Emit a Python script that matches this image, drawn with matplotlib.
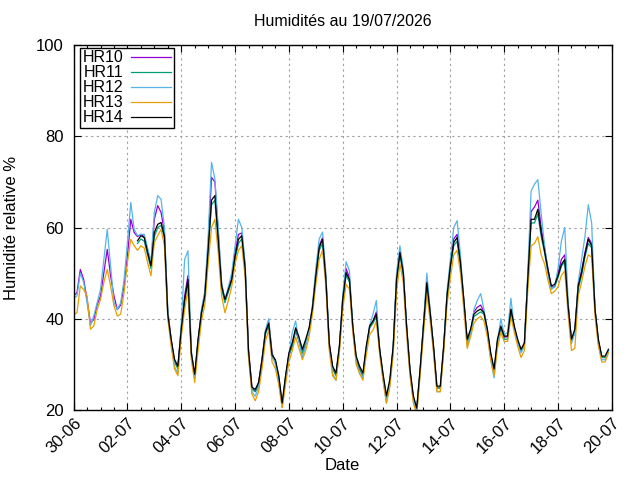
"""Humidités relatives HR10..HR14, du 30/06 au 19/07/2026 (style gnuplot)."""

import matplotlib

matplotlib.use("Agg")
import matplotlib.pyplot as plt
import matplotlib.dates as mdates
import pandas as pd

plt.rcParams["font.family"] = ["Liberation Sans", "DejaVu Sans"]

# ------------------------------------------------------------------ #
# Data: one reading every 3 h from 30-06 00:00 (8 values per day row)
# HR11 and HR14 only start on 02-07 at 09:00.
# ------------------------------------------------------------------ #
start = "2026-06-30 00:00"
step = "3h"
late_start = 19  # index of the first HR11 / HR14 reading

hr10 = [
    45.0, 45.7, 50.8, 48.6, 44.2, 39.1, 39.8, 43.1,
    45.0, 50.1, 55.2, 49.4, 45.0, 42.0, 43.0, 47.2,
    53.8, 61.8, 58.9, 58.0, 58.5, 58.0, 55.0, 52.0,
    61.8, 64.8, 63.3, 59.0, 41.5, 35.5, 30.5, 29.5,
    38.0, 45.0, 49.5, 32.5, 27.5, 35.0, 41.5, 45.5,
    56.5, 71.0, 70.0, 59.0, 47.5, 44.0, 46.0, 49.0,
    54.5, 58.5, 58.8, 51.5, 33.0, 25.0, 24.0, 26.0,
    31.0, 37.0, 39.5, 32.5, 30.5, 27.0, 21.0, 27.0,
    32.0, 34.0, 37.5, 35.0, 32.5, 34.5, 37.5, 42.5,
    50.0, 56.0, 57.8, 49.0, 34.5, 29.0, 27.8, 33.5,
    44.5, 51.0, 49.0, 38.0, 31.0, 29.0, 27.5, 33.5,
    38.0, 39.5, 41.5, 33.0, 27.0, 22.5, 26.0, 33.5,
    49.0, 55.0, 50.5, 38.0, 28.5, 22.5, 20.0, 28.5,
    38.5, 48.5, 41.5, 33.5, 24.8, 24.8, 33.5, 45.0,
    52.0, 57.5, 58.5, 52.5, 44.0, 35.0, 37.0, 41.5,
    42.5, 43.0, 41.5, 37.5, 32.0, 28.5, 35.0, 38.0,
    36.0, 36.0, 42.0, 38.0, 35.0, 33.0, 34.5, 49.0,
    63.5, 64.5, 66.0, 60.0, 55.5, 51.0, 47.0, 47.0,
    50.0, 53.0, 54.0, 43.0, 35.0, 37.5, 47.5, 50.5,
    54.5, 57.8, 56.5, 42.0, 35.0, 31.5, 31.5, 33.0,
]

hr11 = [
    56.5, 57.5, 57.0, 54.0, 51.0,
    58.0, 60.0, 60.5, 57.5, 40.5, 35.0, 30.5, 29.0,
    37.0, 43.5, 48.0, 32.0, 27.5, 35.0, 41.0, 44.5,
    54.5, 65.0, 66.0, 56.5, 46.5, 43.5, 46.0, 48.0,
    53.0, 56.5, 57.5, 50.5, 32.5, 24.5, 24.0, 25.5,
    30.5, 36.5, 38.5, 31.5, 30.5, 27.0, 21.0, 27.0,
    32.0, 34.0, 37.5, 35.5, 32.5, 35.0, 37.5, 42.0,
    49.0, 55.0, 56.5, 48.0, 34.0, 29.0, 27.5, 33.5,
    43.5, 49.5, 48.0, 38.0, 31.5, 29.0, 27.5, 33.5,
    38.0, 39.0, 40.5, 33.0, 27.5, 22.5, 26.0, 33.5,
    48.0, 54.0, 49.5, 38.0, 28.5, 22.5, 20.0, 28.5,
    38.0, 47.5, 41.0, 33.5, 24.8, 24.8, 33.5, 44.5,
    51.0, 56.0, 57.0, 51.5, 43.5, 35.0, 37.0, 40.5,
    41.0, 41.5, 41.0, 37.0, 32.0, 28.5, 35.0, 38.0,
    35.5, 35.5, 41.5, 38.0, 35.0, 33.0, 34.0, 48.0,
    61.0, 61.0, 63.0, 58.0, 54.5, 50.0, 46.5, 47.0,
    49.0, 51.5, 52.5, 42.5, 35.0, 37.0, 46.5, 49.5,
    53.5, 56.5, 55.5, 41.5, 35.0, 31.5, 31.5, 33.0,
]

hr12 = [
    44.5, 45.0, 50.0, 48.0, 43.5, 38.5, 40.6, 43.5,
    46.4, 53.0, 59.6, 51.6, 43.5, 42.0, 43.5, 48.6,
    56.7, 65.5, 59.6, 58.2, 58.5, 58.5, 55.5, 52.5,
    63.3, 67.0, 66.2, 60.0, 42.0, 35.0, 29.5, 28.0,
    39.0, 53.0, 54.9, 33.0, 27.0, 35.0, 42.0, 46.0,
    58.0, 74.3, 70.6, 60.0, 48.0, 44.0, 47.0, 50.0,
    56.0, 61.8, 60.0, 52.0, 32.0, 24.0, 23.0, 25.0,
    30.5, 37.5, 40.0, 32.0, 30.0, 26.0, 20.5, 26.5,
    32.0, 37.0, 39.5, 35.0, 31.5, 34.0, 37.5, 43.0,
    51.0, 57.5, 59.0, 50.0, 34.0, 28.0, 26.5, 33.0,
    45.0, 52.5, 50.5, 38.0, 30.5, 28.0, 27.0, 33.0,
    38.5, 41.0, 44.0, 33.0, 26.5, 21.5, 25.5, 33.5,
    50.0, 56.0, 51.0, 38.0, 28.0, 22.0, 19.5, 28.0,
    39.0, 50.0, 42.0, 33.0, 24.0, 24.0, 33.0, 46.0,
    53.0, 60.0, 61.5, 54.0, 44.0, 34.0, 36.5, 42.0,
    44.0, 45.5, 42.0, 37.0, 31.0, 27.0, 35.0, 40.0,
    36.5, 37.0, 44.5, 38.0, 35.0, 32.5, 34.0, 50.0,
    68.0, 69.5, 70.5, 63.0, 56.0, 50.5, 46.5, 47.0,
    51.0, 57.0, 60.0, 44.0, 34.5, 37.0, 48.0, 53.0,
    58.0, 65.0, 61.0, 42.0, 34.5, 31.0, 31.0, 33.0,
]

hr13 = [
    41.0, 41.3, 47.2, 46.4, 45.0, 37.7, 38.4, 42.0,
    44.2, 48.0, 50.8, 47.2, 42.8, 40.6, 41.0, 45.7,
    52.3, 57.4, 56.0, 55.0, 56.0, 55.5, 52.3, 49.4,
    56.7, 58.2, 59.6, 56.0, 40.0, 34.0, 29.0, 27.5,
    36.0, 42.0, 46.5, 31.0, 26.0, 33.0, 39.5, 43.0,
    52.0, 60.0, 61.8, 54.5, 45.0, 41.3, 44.0, 47.0,
    52.0, 55.0, 56.0, 49.0, 31.5, 23.5, 22.0, 24.0,
    29.0, 35.0, 37.5, 30.5, 29.0, 25.5, 20.5, 25.5,
    30.5, 33.0, 36.0, 33.5, 31.0, 33.0, 36.0, 41.0,
    47.5, 53.0, 55.0, 47.0, 33.0, 27.5, 26.5, 32.5,
    42.0, 47.5, 46.5, 37.0, 30.0, 28.0, 26.5, 32.0,
    36.5, 37.5, 39.5, 32.0, 26.5, 21.5, 25.0, 32.0,
    46.0, 52.0, 48.0, 36.5, 27.5, 21.5, 19.0, 27.5,
    36.5, 45.5, 39.5, 32.5, 24.0, 24.0, 32.5, 43.0,
    49.0, 54.0, 55.0, 50.0, 42.0, 33.5, 36.0, 39.0,
    40.0, 40.5, 39.5, 36.0, 31.0, 27.5, 33.5, 37.0,
    35.0, 35.0, 40.5, 37.0, 34.0, 31.5, 33.0, 46.0,
    56.0, 56.5, 58.0, 54.0, 52.0, 48.5, 45.5, 46.0,
    47.0, 49.5, 50.5, 41.0, 33.0, 33.5, 45.0, 48.0,
    51.5, 54.0, 53.5, 40.5, 34.0, 30.5, 30.5, 32.5,
]

hr14 = [
    57.1, 58.2, 57.8, 54.5, 51.6,
    58.9, 60.7, 61.1, 58.2, 41.0, 35.5, 31.1, 29.6,
    37.7, 44.2, 48.6, 32.5, 27.8, 35.5, 41.3, 45.0,
    55.2, 66.0, 67.0, 57.4, 47.2, 44.2, 46.4, 48.6,
    53.8, 57.4, 58.2, 51.0, 33.0, 25.0, 24.5, 26.0,
    31.0, 37.0, 39.0, 32.0, 31.0, 27.5, 21.5, 27.5,
    32.5, 34.7, 38.0, 36.0, 33.3, 35.5, 38.0, 42.4,
    49.4, 55.6, 57.4, 48.6, 34.7, 29.6, 28.1, 34.0,
    44.2, 50.1, 48.6, 38.4, 31.8, 29.6, 28.1, 34.0,
    38.4, 39.5, 41.0, 33.3, 27.8, 23.1, 26.7, 34.0,
    48.6, 54.5, 50.1, 38.4, 28.9, 23.1, 20.4, 29.0,
    38.4, 47.9, 41.3, 34.0, 25.2, 25.2, 34.0, 45.0,
    51.6, 56.7, 57.8, 52.3, 44.2, 35.5, 37.7, 41.0,
    41.7, 42.1, 41.3, 37.7, 32.5, 29.0, 35.5, 38.4,
    36.2, 36.2, 42.1, 38.4, 35.5, 33.3, 34.7, 48.6,
    61.8, 61.8, 64.0, 58.9, 54.9, 50.8, 47.2, 47.5,
    49.4, 51.9, 53.0, 42.8, 35.5, 37.7, 47.2, 50.1,
    54.1, 57.4, 56.0, 42.1, 35.5, 31.8, 31.8, 33.3,
]

series_names = ["HR10", "HR11", "HR12", "HR13", "HR14"]
series_values = [hr10, hr11, hr12, hr13, hr14]
series_colors = ["#9400d3", "#009e73", "#56b4e9", "#e69f00", "#000000"]

title = "Humidités au 19/07/2026"
x_label = "Date"
y_label = "Humidité relative %"
y_ticks = [20, 40, 60, 80, 100]


def main() -> None:
    times = pd.date_range(start, periods=len(hr10), freq=step)

    fig = plt.figure(figsize=(6.4, 4.8), dpi=100)
    ax = fig.add_axes([0.115, 0.146, 0.841, 0.760])

    for name, values, color in zip(series_names, series_values, series_colors):
        x = times if len(values) == len(times) else times[late_start:]
        ax.plot(x, values, color=color, linewidth=0.9, label=name)

    # axes, ticks, grid (gnuplot look)
    ax.set_xlim(pd.Timestamp("2026-06-30"), pd.Timestamp("2026-07-20"))
    ax.set_ylim(20, 100)
    ax.set_yticks(y_ticks)
    ax.set_xticks(pd.date_range("2026-06-30", "2026-07-20", freq="2D"))
    ax.set_xticks(pd.date_range("2026-06-30", "2026-07-20", freq="12h"), minor=True)
    ax.xaxis.set_major_formatter(mdates.DateFormatter("%d-%m"))
    ax.tick_params(which="both", direction="in", top=True, right=True,
                   labelsize=12, color="black")
    ax.tick_params(which="major", length=5, width=0.8)
    ax.tick_params(which="minor", length=2.5, width=0.8)
    ax.tick_params(axis="y", pad=7)
    ax.tick_params(axis="x", pad=4)
    for label in ax.get_xticklabels():
        label.set_rotation(45)
        label.set_ha("right")
        label.set_va("top")
        label.set_rotation_mode("anchor")
    ax.grid(True, which="major", color="#a0a0a0", linestyle=(0, (2, 3)), linewidth=0.8)
    for spine in ax.spines.values():
        spine.set_linewidth(1.0)

    ax.set_title(title, fontsize=11.5, pad=14)
    ax.set_xlabel(x_label, fontsize=12, labelpad=1)
    ax.set_ylabel(y_label, fontsize=12, labelpad=12)

    legend = ax.legend(loc="upper left", bbox_to_anchor=(0.012, 0.992),
                       markerfirst=False, fontsize=11.5,
                       handlelength=2.5, handletextpad=0.5, labelspacing=0.0,
                       borderpad=0.15, borderaxespad=0.0, fancybox=False,
                       framealpha=1.0, edgecolor="black")
    legend.get_frame().set_linewidth(1.0)

    fig.savefig("out.png", dpi=100)
    plt.close(fig)


if __name__ == "__main__":
    main()
